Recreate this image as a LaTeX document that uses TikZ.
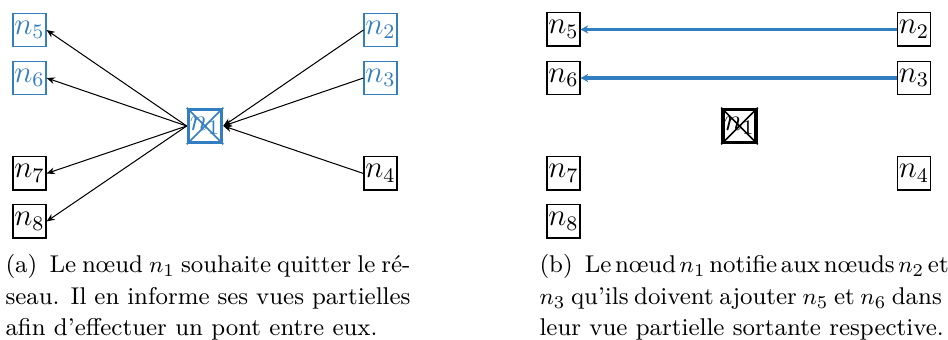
\documentclass[tikz,border=0pt]{standalone}
\usepackage[no-math]{fontspec}
\usetikzlibrary{arrows.meta}
\definecolor{netblue}{RGB}{50,126,192}
\tikzset{
  peer/.style={draw, line width=0.4pt, inner sep=0pt, minimum size=12.8pt,
    font=\fontsize{12}{14}\selectfont},
  bluepeer/.style={peer, draw=netblue, text=netblue},
  leaving/.style={peer, line width=1.4pt},
  crossline/.style={line width=0.6pt},
  msg/.style={-{Stealth[length=3.2pt,width=2.6pt]}, line width=0.4pt},
  bridge/.style={-{Stealth[length=3pt,width=3.2pt]}, line width=1.2pt, draw=netblue},
  captionline/.style={anchor=base west, inner sep=0pt, font=\rmfamily\fontsize{9.4}{12}\selectfont}
}
\begin{document}
\begin{tikzpicture}[x=0.3876pt, y=-0.3876pt]
\useasboundingbox (0,0) rectangle (948,340);

% ---------- (a) n1 announces its departure ----------
\node[bluepeer] (a5) at (29.5,30) {$n_5$};
\node[bluepeer] (a6) at (29.5,78) {$n_6$};
\node[peer] (a7) at (29.5,173.5) {$n_7$};
\node[peer] (a8) at (29.5,221.5) {$n_8$};
\node[bluepeer] (a2) at (380.5,30) {$n_2$};
\node[bluepeer] (a3) at (380.5,78) {$n_3$};
\node[peer] (a4) at (380.5,173.5) {$n_4$};
\node[leaving, draw=netblue, text=netblue] (a1) at (205,126) {$n_1$};
\draw[crossline, netblue] (a1.north west) -- (a1.south east);
\draw[crossline, netblue] (a1.south west) -- (a1.north east);

\foreach \t in {a5,a6,a7,a8}
  \draw[msg] (a1.west) -- (\t.east);
\foreach \s in {a2,a3,a4}
  \draw[msg] (\s.west) -- (a1.east);

% ---------- (b) n2 and n3 add n5 and n6 ----------
\node[peer] (b5) at (563.5,29.5) {$n_5$};
\node[peer] (b6) at (563.5,78) {$n_6$};
\node[peer] (b7) at (563.5,173.5) {$n_7$};
\node[peer] (b8) at (563.5,221.5) {$n_8$};
\node[peer] (b2) at (914,29.5) {$n_2$};
\node[peer] (b3) at (914,78) {$n_3$};
\node[peer] (b4) at (914,173.5) {$n_4$};
\node[leaving] (b1) at (739.5,126) {$n_1$};
\draw[crossline] (b1.north west) -- (b1.south east);
\draw[crossline] (b1.south west) -- (b1.north east);

\draw[bridge] (b2.west) -- (b5.east);
\draw[bridge] (b3.west) -- (b6.east);

% ---------- captions ----------
\node[captionline] (ca1) at (5,273) {\makebox[157pt][s]{(a)\enspace Le nœud $n_1$ souhaite quitter le ré-}};
\node[captionline] (ca2) at (5,305) {\makebox[157pt][s]{seau. Il en informe ses vues partielles}};
\node[captionline] (ca3) at (5,336) {afin d’effectuer un pont entre eux.};

\node[captionline] (cb1) at (539,273) {\spaceskip=0.2em plus 0.5em minus 0.05em
  \makebox[155pt][s]{(b)\enspace Le nœud $n_1$ notifie aux nœuds $n_2$ et}};
\node[captionline] (cb2) at (539,305) {\makebox[155pt][s]{$n_3$ qu’ils doivent ajouter $n_5$ et $n_6$ dans}};
\node[captionline] (cb3) at (539,336) {leur vue partielle sortante respective.};
\end{tikzpicture}
\end{document}
